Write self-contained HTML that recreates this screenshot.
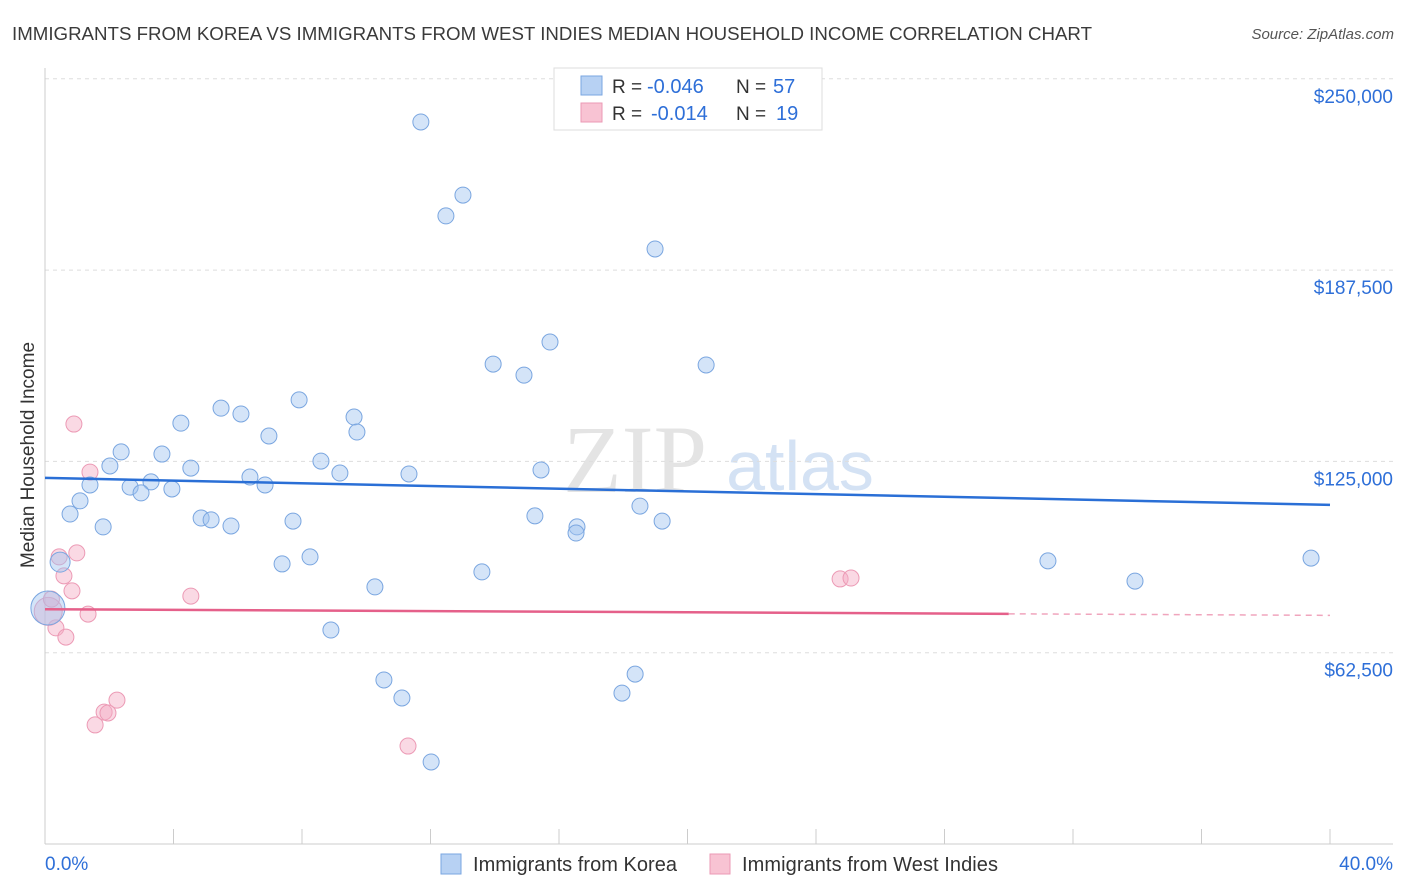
<!DOCTYPE html>
<html><head><meta charset="utf-8"><style>
body{margin:0;background:#fff;font-family:"Liberation Sans",sans-serif;}
svg{display:block}
</style></head><body>
<svg id="chart" width="1406" height="892">
<text x="12" y="40" font-size="18" fill="#3a3a3a" textLength="1080" lengthAdjust="spacingAndGlyphs">IMMIGRANTS FROM KOREA VS IMMIGRANTS FROM WEST INDIES MEDIAN HOUSEHOLD INCOME CORRELATION CHART</text>
<text x="1394" y="39" font-size="15" fill="#555" font-style="italic" text-anchor="end">Source: ZipAtlas.com</text>
<text x="635" y="492" font-size="96" fill="#e4e4e4" font-family="Liberation Serif" text-anchor="middle">ZIP</text>
<text x="800" y="490" font-size="70" fill="#d4e2f4" text-anchor="middle">atlas</text>
<g id="grid"></g><g id="axes"></g><g id="marks"></g>
<text transform="translate(34,455) rotate(-90)" font-size="19" fill="#333" text-anchor="middle">Median Household Income</text>
<g>
<rect x="554" y="68" width="268" height="62" fill="#fff" stroke="#ddd"/>
<rect x="581" y="76" width="21" height="19" fill="#b7d1f3" stroke="#7aa6e0"/>
<rect x="581" y="103" width="21" height="19" fill="#f8c3d3" stroke="#eb9ab4"/>
<text x="612" y="93" font-size="19" fill="#333">R =</text>
<text x="647" y="93" font-size="20" fill="#2e6fd8">-0.046</text>
<text x="736" y="93" font-size="19" fill="#333">N =</text>
<text x="773" y="93" font-size="20" fill="#2e6fd8">57</text>
<text x="612" y="120" font-size="19" fill="#333">R =</text>
<text x="651" y="120" font-size="20" fill="#2e6fd8">-0.014</text>
<text x="736" y="120" font-size="19" fill="#333">N =</text>
<text x="776" y="120" font-size="20" fill="#2e6fd8">19</text>
</g>
<g>
<rect x="441" y="854" width="20" height="20" fill="#b7d1f3" stroke="#7aa6e0"/>
<text x="473" y="871" font-size="20" fill="#333" textLength="204">Immigrants from Korea</text>
<rect x="710" y="854" width="20" height="20" fill="#f8c3d3" stroke="#eb9ab4"/>
<text x="742" y="871" font-size="20" fill="#333" textLength="256">Immigrants from West Indies</text>
</g>
</svg>
<script>
const yTicks=[62500,125000,187500,250000];
const yTickLabels=["$62,500","$125,000","$187,500","$250,000"];
const xTicks=[0,4,8,12,16,20,24,28,32,36,40];
const koreaX=[11.70,13.01,12.48,18.99,15.72,13.95,20.58,14.91,7.91,5.48,6.10,9.62,4.23,9.71,6.97,2.37,3.64,8.59,2.02,4.54,15.44,9.18,11.33,6.38,3.30,6.85,1.40,2.65,3.95,2.99,1.09,18.52,0.78,4.86,5.17,15.25,7.72,19.21,1.81,5.79,16.56,16.53,0.47,31.22,39.41,8.25,7.38,13.60,33.93,10.27,0.09,8.90,18.37,10.55,17.96,11.11,12.02];
const koreaY=[235900,212000,205200,194400,164000,156800,156500,153200,145100,142400,140500,139500,137500,134600,133300,128100,127400,125100,123500,122800,122200,121200,120900,119900,118300,117300,117300,116600,116000,114700,112100,110400,107800,106500,105900,107200,105500,105500,103600,103900,103600,101600,92100,92500,93400,93800,91500,88900,85900,84000,77100,69900,55500,53600,49300,47700,26800];
const koreaR=[8,8,8,8,8,8,8,8,8,8,8,8,8,8,8,8,8,8,8,8,8,8,8,8,8,8,8,8,8,8,8,8,8,8,8,8,8,8,8,8,8,8,10,8,8,8,8,8,8,8,17,8,8,8,8,8,8];
const wiX=[0.90,1.40,0.44,0.99,0.59,0.84,4.54,1.34,0.34,0.65,24.75,25.09,2.24,1.84,1.96,1.56,11.30,0.10,0.20];
const wiY=[137200,121500,93800,95100,87600,82700,81000,75100,70600,67600,86600,86900,47000,43100,42800,38900,32000,76000,80000];
const trendKorea=[119600,110800];
const trendWI=[76700,74700];
const wiSolidEnd=30;
const NS="http://www.w3.org/2000/svg";
const X=p=>45+p/40*1285;
const Y=v=>844-v/62500*191.3;
function mk(t,a,parent){const e=document.createElementNS(NS,t);for(const k in a)e.setAttribute(k,a[k]);document.getElementById(parent).appendChild(e);return e;}
yTicks.forEach((v,i)=>{
 const l=mk('line',{x1:45,x2:1393,y1:Y(v),y2:Y(v),stroke:'#ddd','stroke-dasharray':'4,4'},'grid');
 
 
 const t=mk('text',{x:1393,y:Y(v)+24,'font-size':19,fill:'#2e6fd8','text-anchor':'end'},'axes');
 t.textContent=yTickLabels[i];
 
 
});
const ax=mk('line',{x1:45,x2:1393,y1:844,y2:844,stroke:'#ccc'},'axes');


const ay=mk('line',{x1:45,x2:45,y1:68,y2:844,stroke:'#ccc'},'axes');


xTicks.forEach(p=>{
 const l=mk('line',{x1:X(p),x2:X(p),y1:829,y2:844,stroke:'#ccc'},'axes');
 
 
});
const x0=mk('text',{x:45,y:870,'font-size':19,fill:'#2e6fd8'},'axes');x0.textContent='0.0%';


const x1=mk('text',{x:1393,y:870,'font-size':19,fill:'#2e6fd8','text-anchor':'end'},'axes');x1.textContent='40.0%';


wiX.forEach((p,i)=>{
 const c=mk('circle',{cx:X(p),cy:Y(wiY[i]),r:(i>=17?(i==17?14:8):8),fill:'rgba(245,170,195,0.45)',stroke:'#ec9ab5','stroke-width':1},'marks');
 
 
});
koreaX.forEach((p,i)=>{
 const c=mk('circle',{cx:X(p),cy:Y(koreaY[i]),r:koreaR[i],fill:'rgba(160,195,240,0.45)',stroke:'#7aa6e0','stroke-width':1},'marks');
 
 
});
const tk=mk('line',{x1:X(0),y1:Y(trendKorea[0]),x2:X(40),y2:Y(trendKorea[1]),stroke:'#2a6fd6','stroke-width':2.5},'marks');


const wiAt=p=>trendWI[0]+(trendWI[1]-trendWI[0])*p/40;
const tw=mk('line',{x1:X(0),y1:Y(wiAt(0)),x2:X(wiSolidEnd),y2:Y(wiAt(wiSolidEnd)),stroke:'#e5608a','stroke-width':2.5},'marks');


const td=mk('line',{x1:X(wiSolidEnd),y1:Y(wiAt(wiSolidEnd)),x2:X(40),y2:Y(wiAt(40)),stroke:'#f0a5bd','stroke-width':1.5,'stroke-dasharray':'6,5'},'marks');


</script>
</body></html>
